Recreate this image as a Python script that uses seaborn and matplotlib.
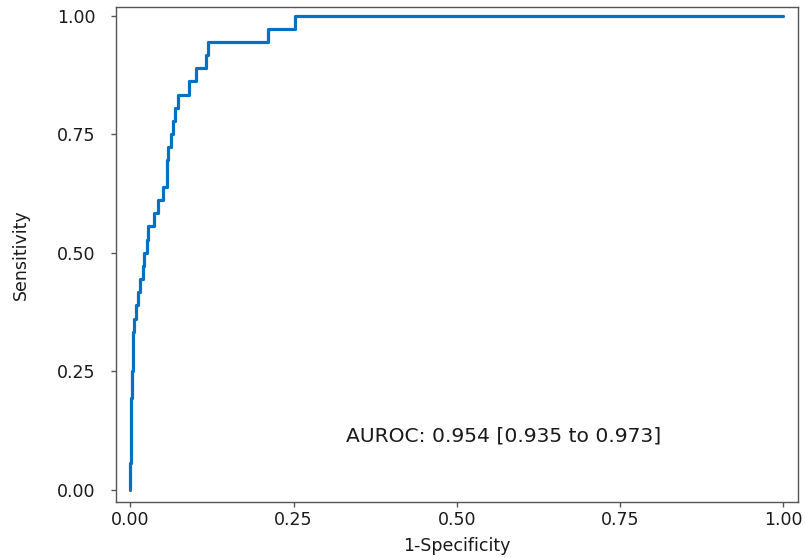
import matplotlib
matplotlib.use("Agg")
import matplotlib.pyplot as plt
import seaborn as sns
import pandas as pd

# ROC operating points (step-post: tpr holds from each fpr to the next)
fpr = [0.000, 0.001, 0.0025, 0.004, 0.006, 0.0083, 0.0123, 0.0149, 0.0199,
       0.0210, 0.0260, 0.0276, 0.0368, 0.0420, 0.0505, 0.0562, 0.0582,
       0.0619, 0.0654, 0.0685, 0.0726, 0.0899, 0.1006, 0.1155, 0.1194,
       0.2104, 0.2522, 1.000]
tpr_counts = [2, 7, 9, 12, 13, 14, 15, 16, 17, 18, 19, 20, 21, 22, 23, 25,
              26, 27, 28, 29, 30, 31, 32, 33, 34, 35, 36, 36]
n_positive = 36
tpr = [c / n_positive for c in tpr_counts]

auc_label = "AUROC: 0.954 [0.935 to 0.973]"
tick_values = [0.0, 0.25, 0.5, 0.75, 1.0]
tick_labels = ["0.00", "0.25", "0.50", "0.75", "1.00"]

sns.set_theme(style="ticks")
plt.rcParams["font.family"] = ["DejaVu Sans"]

roc = pd.DataFrame({"fpr": [0.0] + fpr, "tpr": [0.0] + tpr})

fig = plt.figure(figsize=(8.05, 5.58), dpi=100)
ax = fig.add_axes([0.1441, 0.1009, 0.8468, 0.8866])

sns.lineplot(data=roc, x="fpr", y="tpr", ax=ax, sort=False, estimator=None,
             drawstyle="steps-post", color="#0072C6", linewidth=2.3)

ax.set_xlim(-0.022, 1.022)
ax.set_ylim(-0.025, 1.018)
ax.set_xticks(tick_values)
ax.set_xticklabels(tick_labels)
ax.set_yticks(tick_values)
ax.set_yticklabels(tick_labels)
ax.tick_params(axis="both", labelsize=12.5, labelcolor="#1a1a1a",
               color="#555555", length=3.5, width=1, direction="out")
ax.tick_params(axis="y", pad=11)
ax.tick_params(axis="x", pad=3)
for side in ["left", "right", "top", "bottom"]:
    ax.spines[side].set_visible(True)
    ax.spines[side].set_color("#555555")
    ax.spines[side].set_linewidth(1.0)

ax.set_xlabel("1-Specificity", fontsize=12.5, color="#1a1a1a", labelpad=6)
ax.set_ylabel("Sensitivity", fontsize=12.5, color="#1a1a1a", labelpad=20)

ax.text(0.571, 0.113, auc_label, fontsize=14.6, color="#1a1a1a",
        ha="center", va="center")

fig.savefig("out.png", dpi=100, facecolor="white")
